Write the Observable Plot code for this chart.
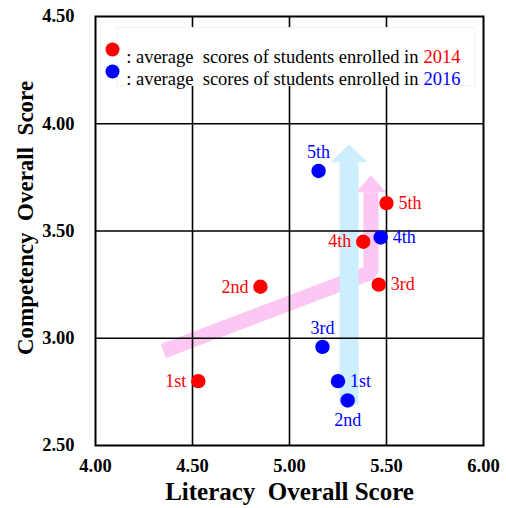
<!DOCTYPE html>
<html>
<head>
<meta charset="utf-8">
<script src="https://cdn.jsdelivr.net/npm/d3@7"></script>
<script src="https://cdn.jsdelivr.net/npm/@observablehq/plot@0.6"></script>
<style>
  body { margin: 0; background: #fff; }
  #chart svg { display: block; }
</style>
</head>
<body>
<div id="chart"></div>
<script>
// ---- data ----
const stages = ["1st", "2nd", "3rd", "4th", "5th"];
const literacy2014 = [4.53, 4.85, 5.46, 5.38, 5.50];
const competency2014 = [2.80, 3.24, 3.25, 3.45, 3.63];
const literacy2016 = [5.25, 5.30, 5.17, 5.47, 5.15];
const competency2016 = [2.80, 2.71, 2.96, 3.47, 3.78];
const labelSide2014 = ["left", "left", "right", "left", "right"];
const labelSide2016 = ["right", "below", "above", "right", "above"];
const xTicks = [4.0, 4.5, 5.0, 5.5, 6.0];
const yTicks = [2.5, 3.0, 3.5, 4.0, 4.5];
const legendYears = ["2014", "2016"];

// trend arrows (annotation paths in data units)
const pinkShaftX = [4.35, 5.42, 5.42];
const pinkShaftY = [2.941, 3.3075, 3.681];
const pinkHeadX = [5.343, 5.42, 5.497];
const pinkHeadY = [3.681, 3.760, 3.681];
const blueShaftX = [5.307, 5.307];
const blueShaftY = [2.691, 3.821];
const blueHeadX = [5.212, 5.307, 5.402];
const blueHeadY = [3.821, 3.905, 3.821];

const pts2014 = stages.map((s, i) => ({stage: s, x: literacy2014[i], y: competency2014[i], side: labelSide2014[i]}));
const pts2016 = stages.map((s, i) => ({stage: s, x: literacy2016[i], y: competency2016[i], side: labelSide2016[i]}));
const path = (xs, ys) => xs.map((x, i) => ({x, y: ys[i]}));

const RED = "#ff0000", BLUE = "#0000ff";
const PINK = "#fac8f2", LIGHTBLUE = "#cdeefc";
const fs = 18;
const lfs = 18.5;
const f2 = d3.format(".2f");

function labels(data, color) {
  const common = {x: "x", y: "y", text: "stage", fill: color, fontSize: fs};
  return [
    Plot.text(data.filter(d => d.side === "left"), {...common, textAnchor: "end", dx: -12}),
    Plot.text(data.filter(d => d.side === "right"), {...common, textAnchor: "start", dx: 12}),
    Plot.text(data.filter(d => d.side === "above"), {...common, dy: -19}),
    Plot.text(data.filter(d => d.side === "below"), {...common, dy: 20})
  ];
}

const chart = Plot.plot({
  width: 506,
  height: 508,
  marginLeft: 95,
  marginRight: 23,
  marginTop: 16,
  marginBottom: 63,
  style: {fontFamily: "'Liberation Serif', 'Times New Roman', serif", background: "#fff"},
  x: {domain: [4, 6]},
  y: {domain: [2.5, 4.5]},
  marks: [
    // arrows
    Plot.line(path(pinkShaftX, pinkShaftY), {x: "x", y: "y", stroke: PINK, strokeWidth: 15, strokeLinecap: "butt", strokeLinejoin: "miter"}),
    Plot.line(path(pinkHeadX, pinkHeadY), {x: "x", y: "y", fill: PINK, stroke: "none"}),
    Plot.line(path(blueShaftX, blueShaftY), {x: "x", y: "y", stroke: LIGHTBLUE, strokeWidth: 19, strokeLinecap: "butt"}),
    Plot.line(path(blueHeadX, blueHeadY), {x: "x", y: "y", fill: LIGHTBLUE, stroke: "none"}),
    // grid
    Plot.gridX(xTicks.slice(1, -1), {stroke: "#000", strokeOpacity: 1, strokeWidth: 1.6}),
    Plot.gridY(yTicks.slice(1, -1), {stroke: "#000", strokeOpacity: 1, strokeWidth: 1.6}),
    // legend box
    Plot.rect([0], {x1: () => 4.113, x2: () => 5.959, y1: () => 4.176, y2: () => 4.446, fill: "#fff", stroke: "#f2f2f2", strokeWidth: 1}),
    Plot.dot([0], {frameAnchor: "top-left", dx: 17, dy: 33, r: 7, fill: RED}),
    Plot.dot([0], {frameAnchor: "top-left", dx: 17, dy: 55, r: 7, fill: BLUE}),
    Plot.text([0], {frameAnchor: "top-left", dx: 323, dy: 33, text: () => ": average  scores of students enrolled in", textAnchor: "end", fontSize: lfs, fill: "#000"}),
    Plot.text([0], {frameAnchor: "top-left", dx: 323, dy: 55, text: () => ": average  scores of students enrolled in", textAnchor: "end", fontSize: lfs, fill: "#000"}),
    Plot.text([legendYears[0]], {frameAnchor: "top-left", dx: 328, dy: 33, text: d => d, textAnchor: "start", fontSize: lfs, fill: RED}),
    Plot.text([legendYears[1]], {frameAnchor: "top-left", dx: 328, dy: 55, text: d => d, textAnchor: "start", fontSize: lfs, fill: BLUE}),
    // points
    Plot.dot(pts2014, {x: "x", y: "y", r: 7.2, fill: RED}),
    Plot.dot(pts2016, {x: "x", y: "y", r: 7.2, fill: BLUE}),
    ...labels(pts2014, RED),
    ...labels(pts2016, BLUE),
    // axes
    Plot.axisX(xTicks, {tickSize: 0, tickPadding: 13, tickFormat: f2, fontSize: 18.5, fontWeight: "bold", fill: "#000", label: null}),
    Plot.axisY(yTicks, {tickSize: 0, tickPadding: 21, tickFormat: f2, fontSize: 18.5, fontWeight: "bold", fill: "#000", label: null}),
    Plot.text([0], {frameAnchor: "bottom", dy: 54, text: () => "Literacy\u00a0 Overall Score", fontSize: 25, fontWeight: "bold", fill: "#000"}),
    Plot.text([0], {frameAnchor: "left", textAnchor: "middle", dx: -70, dy: -13, rotate: -90, text: () => "Competency\u00a0 Overall\u00a0 Score", fontSize: 23, fontWeight: "bold", fill: "#000"}),
    Plot.frame({stroke: "#000", strokeWidth: 2})
  ]
});
document.getElementById("chart").appendChild(chart);
</script>
</body>
</html>
